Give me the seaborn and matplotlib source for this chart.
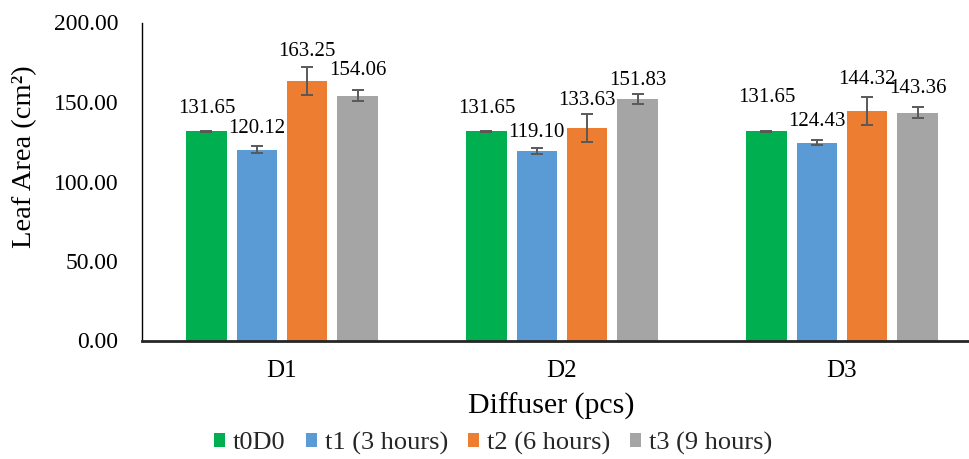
import matplotlib
matplotlib.use("Agg")
import matplotlib.pyplot as plt
import seaborn as sns
import pandas as pd
import numpy as np

# ---- data ----
groups = ["D1", "D2", "D3"]
series = ["t0D0", "t1 (3 hours)", "t2 (6 hours)", "t3 (9 hours)"]
t0D0 = [131.65, 131.65, 131.65]
t1 = [120.12, 119.10, 124.43]
t2 = [163.25, 133.63, 144.32]
t3 = [154.06, 151.83, 143.36]
err_t0D0 = [0.3, 0.3, 0.3]
err_t1 = [1.9, 1.7, 1.6]
err_t2 = [8.9, 8.8, 8.6]
err_t3 = [3.2, 3.3, 3.6]
yticks = [0, 50, 100, 150, 200]

# label gaps above bar tops (pixels), as placed in the original
label_gap_px = [[18.4, 18.4, 29.0],
                [17.0, 14.6, 17.0],
                [25.0, 22.7, 26.7],
                [20.7, 14.0, 19.3]]

colors = ["#00B050", "#5B9BD5", "#ED7D31", "#A5A5A5"]

values = [t0D0, t1, t2, t3]
errors = [err_t0D0, err_t1, err_t2, err_t3]

rows = []
for s, vals in zip(series, values):
    for g, v in zip(groups, vals):
        rows.append({"group": g, "series": s, "value": v})
df = pd.DataFrame(rows)

sns.set_theme(style="white")
plt.rcParams["font.family"] = ["Liberation Serif", "DejaVu Serif"]

W, H = 969, 459
fig = plt.figure(figsize=(W / 100, H / 100), dpi=100)
ax = fig.add_axes([142 / W, 118.5 / H, (W - 142) / W, 318 / H])

sns.barplot(data=df, x="group", y="value", hue="series", order=groups,
            hue_order=series, palette=colors, width=0.72, gap=0.2,
            errorbar=None, ax=ax, legend=True, saturation=1, edgecolor="none")

bar_containers = list(ax.containers)
for ci, cont in enumerate(bar_containers):
    for gi, bar in enumerate(cont):
        x = bar.get_x() + bar.get_width() / 2
        h = bar.get_height()
        ax.errorbar(x, h, yerr=errors[ci][gi], color="#595959", lw=1.4,
                    capsize=4.3, capthick=1.4, zorder=5)
        ax.annotate(f"{values[ci][gi]:.2f}", xy=(x, h),
                    xytext=(0, label_gap_px[ci][gi] * 0.72),
                    textcoords="offset points", ha="center", va="baseline",
                    fontsize=15, color="#000000")

ax.set_xlim(-0.5, -0.5 + (W - 142) / 280)
ax.set_ylim(0, 200)
ax.set_yticks(yticks)
ax.set_yticklabels([f"{t:.2f}" for t in yticks])
ax.tick_params(axis="y", length=0, pad=17, labelsize=17, colors="#000000")
ax.tick_params(axis="x", length=0, pad=14, labelsize=18, colors="#000000")

for side in ["top", "right"]:
    ax.spines[side].set_visible(False)
ax.spines["left"].set_color("#000000")
ax.spines["left"].set_linewidth(1.0)
ax.spines["bottom"].set_color("#262626")
ax.spines["bottom"].set_linewidth(2.0)

ax.set_ylabel("Leaf Area (cm\u00b2)", fontsize=20.5, color="#000000")
ax.set_xlabel("Diffuser (pcs)", fontsize=21.5, color="#000000")
ax.yaxis.set_label_coords(-(142 - 37) / (W - 142), (340.5 - 157) / 318)
ax.xaxis.set_label_coords((551 - 142) / (W - 142), -(393 - 340.5) / 318)

handles, labels = ax.get_legend_handles_labels()
ax.get_legend().remove()
fig.legend(handles, labels, loc="center", bbox_to_anchor=(493 / W, 16 / H),
           ncol=4, frameon=False, fontsize=19, handlelength=0.42,
           handleheight=0.42, handletextpad=0.3, columnspacing=0.75,
           borderpad=0.1)

fig.savefig("out.png", dpi=100)
